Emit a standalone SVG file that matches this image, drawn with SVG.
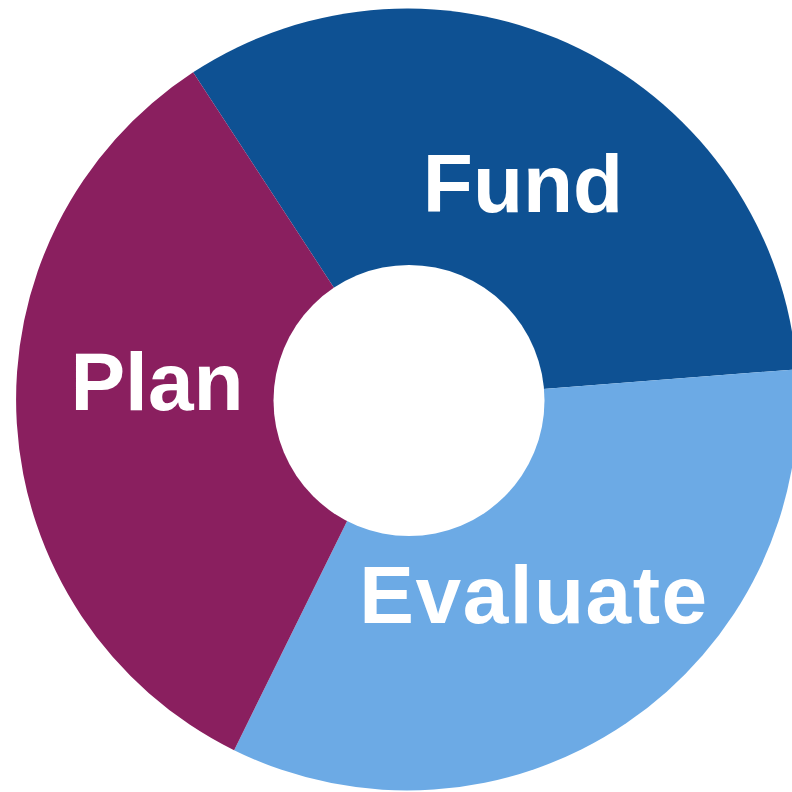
<svg xmlns="http://www.w3.org/2000/svg" width="792" height="792" viewBox="0 0 792 792">
<style>
.lbl{font-family:"Liberation Sans",Arial,sans-serif;font-weight:bold;font-size:82px;fill:#ffffff;text-anchor:middle}
</style>
<rect width="792" height="792" fill="#ffffff"/>
<g id="fund">
<path d="M407,399.5 L193.1,72.3 A391,391 0 0,1 796.8,369.3 Z" fill="#0E5193"/>
<text class="lbl" x="523" y="212">Fund</text>
</g>
<g id="evaluate">
<path d="M407,399.5 L796.8,369.3 A391,391 0 0,1 234.1,750.2 Z" fill="#6CAAE5"/>
<text class="lbl" x="534" y="623" letter-spacing="1.5">Evaluate</text>
</g>
<g id="plan">
<path d="M407,399.5 L234.1,750.2 A391,391 0 0,1 193.1,72.3 Z" fill="#8A1F5F"/>
<text class="lbl" x="157" y="410">Plan</text>
</g>
<g id="hole">
<circle cx="409" cy="400.5" r="135.5" fill="#ffffff"/>
</g>
<g id="connectors"></g>
</svg>
